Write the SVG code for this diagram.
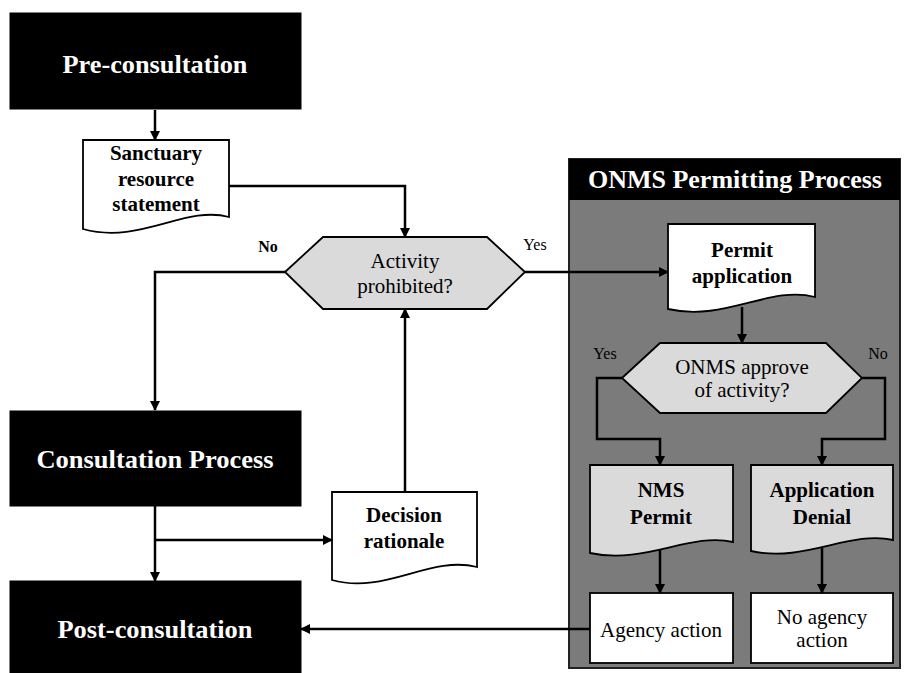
<svg xmlns="http://www.w3.org/2000/svg" width="904" height="673" viewBox="0 0 904 673">
<defs>
<marker id="ah" markerUnits="userSpaceOnUse" markerWidth="10" markerHeight="10" refX="9" refY="5" orient="auto">
<path d="M0,0 L10,5 L0,10 z" fill="#000"/>
</marker>
<style>
.blk{fill:#000;stroke:#000}
.hdr{font-family:"Liberation Serif","Times New Roman",serif;font-weight:bold;font-size:25px;fill:#fff;text-anchor:middle}
.doc{stroke:#000;stroke-width:1.8;fill:#fff}
.gdoc{stroke:#000;stroke-width:1.8;fill:#dadada}
.hex{stroke:#000;stroke-width:1.8;fill:#dadada}
.b{font-family:"Liberation Serif","Times New Roman",serif;font-weight:bold;font-size:21px;fill:#000;text-anchor:middle}
.r{font-family:"Liberation Serif","Times New Roman",serif;font-size:21px;fill:#000;text-anchor:middle}
.lbl{font-family:"Liberation Serif","Times New Roman",serif;font-size:16px;fill:#000;text-anchor:middle}
.c{fill:none;stroke:#000;stroke-width:2.5;marker-end:url(#ah)}
</style>
</defs>
<rect width="904" height="673" fill="#fff"/>

<g id="panel">
<rect x="569" y="159" width="331" height="509" fill="#7b7b7b" stroke="#222" stroke-width="2"/>
<rect x="569" y="159" width="331" height="41" fill="#000"/>
<text class="hdr" x="735" y="188" textLength="294" lengthAdjust="spacingAndGlyphs">ONMS Permitting Process</text>
</g>

<g id="pre">
<rect class="blk" x="10" y="13" width="291" height="96"/>
<text class="hdr" x="155" y="73" textLength="185" lengthAdjust="spacingAndGlyphs">Pre-consultation</text>
</g>

<g id="sanctuary">
<path class="doc" d="M83,140 H229 V217 C185,205 140,245 83,229 Z"/>
<text class="b" x="156" y="160">Sanctuary</text>
<text class="b" x="156" y="186">resource</text>
<text class="b" x="156" y="211">statement</text>
</g>

<g id="activity">
<polygon class="hex" points="285,272 323,237 487,237 525,272 487,309 323,309"/>
<text class="r" x="405" y="268">Activity</text>
<text class="r" x="405" y="293">prohibited?</text>
</g>

<g id="consultation">
<rect class="blk" x="10" y="411" width="291" height="95"/>
<text class="hdr" x="155" y="468" textLength="237" lengthAdjust="spacingAndGlyphs">Consultation Process</text>
</g>

<g id="decision">
<path class="doc" d="M332,492 H477 V567 C430,555 385,595 332,580 Z"/>
<text class="b" x="404" y="522">Decision</text>
<text class="b" x="404" y="548">rationale</text>
</g>

<g id="post">
<rect class="blk" x="10" y="581" width="291" height="92"/>
<text class="hdr" x="155" y="638" textLength="195" lengthAdjust="spacingAndGlyphs">Post-consultation</text>
</g>

<g id="permitapp">
<path class="doc" d="M668,224 H815 V297 C770,285 725,322 668,309 Z"/>
<text class="b" x="742" y="257">Permit</text>
<text class="b" x="742" y="283">application</text>
</g>

<g id="approve">
<polygon class="hex" points="622,378 660,343 826,343 862,378 826,413 660,413"/>
<text class="r" x="742" y="374">ONMS approve</text>
<text class="r" x="742" y="397">of activity?</text>
</g>

<g id="nmspermit">
<path class="gdoc" d="M590,465 H733 V542 C690,532 645,565 590,553 Z"/>
<text class="b" x="661" y="497">NMS</text>
<text class="b" x="661" y="524">Permit</text>
</g>

<g id="denial">
<path class="gdoc" d="M751,465 H893 V540 C850,530 805,563 751,551 Z"/>
<text class="b" x="822" y="497">Application</text>
<text class="b" x="822" y="524">Denial</text>
</g>

<g id="agency">
<rect x="590" y="593" width="143" height="70" fill="#fff" stroke="#000" stroke-width="1.8"/>
<text class="r" x="661" y="637">Agency action</text>
</g>

<g id="noagency">
<rect x="751" y="593" width="142" height="70" fill="#fff" stroke="#000" stroke-width="1.8"/>
<text class="r" x="822" y="624">No agency</text>
<text class="r" x="822" y="647">action</text>
</g>

<g id="connectors">
<path class="c" d="M155,110 V140"/>
<path class="c" d="M229,186 H405 V237"/>
<path class="c" d="M285,272 H155 V410"/>
<path class="c" d="M525,272 H668"/>
<path class="c" d="M155,506 V581"/>
<path class="c" d="M155,540 H332"/>
<path class="c" d="M405,492 V309"/>
<path class="c" d="M742,307 V343"/>
<path class="c" d="M622,378 H597 V439 H660 V465"/>
<path class="c" d="M862,378 H885 V439 H822 V465"/>
<path class="c" d="M660,550 V593"/>
<path class="c" d="M822,548 V593"/>
<path class="c" d="M590,629 H301"/>
<text class="lbl" x="268" y="252" font-weight="bold">No</text>
<text class="lbl" x="535" y="250">Yes</text>
<text class="lbl" x="605" y="359">Yes</text>
<text class="lbl" x="878" y="359">No</text>
</g>
</svg>
